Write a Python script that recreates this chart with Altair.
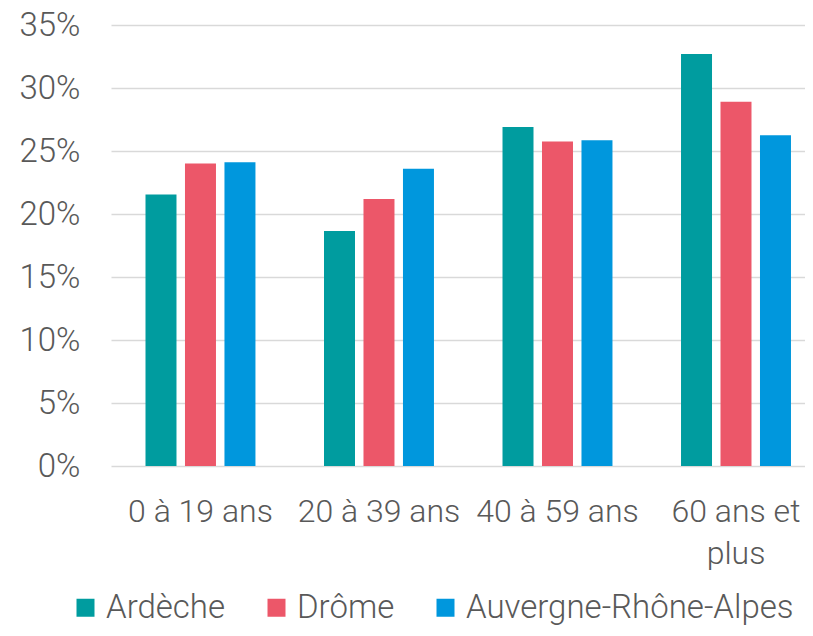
import altair as alt
import pandas as pd

categories = ["0 à 19 ans", "20 à 39 ans", "40 à 59 ans", "60 ans et plus"]
series = ["Ardèche", "Drôme", "Auvergne-Rhône-Alpes"]
ardeche = [21.55, 18.65, 26.9, 32.7]
drome = [24.0, 21.2, 25.75, 28.9]
ara = [24.1, 23.6, 25.85, 26.25]
colors = ["#009C9F", "#EC5769", "#0097DD"]

rows = []
for s, vals in zip(series, [ardeche, drome, ara]):
    for c, v in zip(categories, vals):
        rows.append({"cat": c, "serie": s, "val": v / 100})
df = pd.DataFrame(rows)

FONT = "Roboto"
TXT = "#595959"

chart = alt.Chart(df).mark_bar().encode(
    x=alt.X("cat:N", sort=categories, title=None,
            scale=alt.Scale(paddingInner=0.384, paddingOuter=0.1359, align=0.711),
            axis=alt.Axis(labelAngle=0, ticks=False, domain=False, labelPadding=30,
                          labelFontSize=32, labelColor=TXT, labelFont=FONT,
                          labelFontWeight=300, labelLineHeight=42,
                          labelExpr="datum.value == '60 ans et plus' ? ['60 ans et', 'plus'] : datum.value")),
    xOffset=alt.XOffset("serie:N", sort=series,
                        scale=alt.Scale(paddingInner=0.215, paddingOuter=0)),
    y=alt.Y("val:Q", title=None,
            scale=alt.Scale(domain=[0, 0.35], nice=False),
            axis=alt.Axis(format=".0%", values=[0, 0.05, 0.1, 0.15, 0.2, 0.25, 0.3, 0.35],
                          ticks=False, domain=False, labelPadding=31,
                          labelFontSize=33, labelColor=TXT, labelFont=FONT,
                          labelFontWeight=300, gridColor="#D9D9D9", gridWidth=1.5)),
    color=alt.Color("serie:N", sort=series, title=None,
                    scale=alt.Scale(domain=series, range=colors),
                    legend=alt.Legend(orient="none", legendX=-42, legendY=566,
                                      direction="horizontal", symbolType="square",
                                      symbolSize=324, symbolStrokeWidth=0,
                                      labelFontSize=33, labelFont=FONT, labelFontWeight=300,
                                      labelColor=TXT, labelOffset=4, columnPadding=34,
                                      padding=0, labelLimit=400)),
).properties(
    width=694, height=441,
    autosize=alt.AutoSizeParams(type="none"),
    padding={"left": 103, "top": 17, "right": 0, "bottom": 162},
).configure_view(stroke=None)

chart.save("out.html", embed_options={"renderer": "svg", "actions": False})
